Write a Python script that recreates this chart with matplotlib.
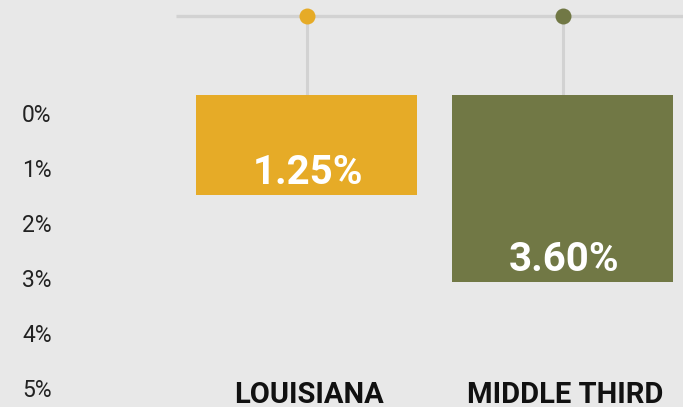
import matplotlib
matplotlib.use("Agg")
import matplotlib.pyplot as plt

# Data
categories = ["LOUISIANA", "MIDDLE THIRD"]
value_labels = ["1.25%", "3.60%"]
bar_ends = [1.50, 3.08]          # where each bar ends on the (inverted) % axis
bar_start = -0.32                # common top of the bars
tick_values = [0, 1, 2, 3, 4, 5]
tick_labels = ["0%", "1%", "2%", "3%", "4%", "5%"]
colors = ["#E6AB27", "#717845"]

BG = "#E8E8E8"
LINE = "#D2D2D2"

W, H = 683, 407
fig = plt.figure(figsize=(W / 100, H / 100), dpi=100, facecolor=BG)
left_px = 60
ax = fig.add_axes([left_px / W, 0, 1 - left_px / W, 1])
ax.set_facecolor(BG)

px_per_unit_y = 55.0
y0_px = 112.7
ax.set_ylim((H - y0_px) / px_per_unit_y, (0 - y0_px) / px_per_unit_y)
px_per_unit_x = 256.0
x0_px = 306.5
ax.set_xlim((left_px - x0_px) / px_per_unit_x, (W - x0_px) / px_per_unit_x)

xs = list(range(len(categories)))
heights = [e - bar_start for e in bar_ends]
ax.bar(xs, heights, bottom=bar_start, width=0.863, color=colors, zorder=3)

# top connector line, stems, dots
line_y = (16 - y0_px) / px_per_unit_y
ax.plot([(176 - x0_px) / px_per_unit_x, 2.0], [line_y, line_y], color=LINE, lw=2.4,
        zorder=1, solid_capstyle="butt")
for x, c in zip(xs, colors):
    ax.plot([x, x], [line_y, bar_start], color=LINE, lw=2.2, zorder=1)
    ax.plot([x], [line_y], "o", color=c, markersize=11.5, zorder=4, markeredgewidth=0)

# value labels
for x, e, lab in zip(xs, bar_ends, value_labels):
    ax.text(x + 0.005, e - 0.2, lab, ha="center", va="baseline", color="white",
            fontsize=29, fontweight="bold", family="Roboto", zorder=5)

# category labels
for x, cat in zip(xs, categories):
    ax.text(x + 0.01, 5.13, cat, ha="center", va="center", color="#111111",
            fontsize=21, fontweight="bold", family="Roboto", clip_on=False)

ax.set_yticks(tick_values)
ax.set_yticklabels(tick_labels, family="Roboto", fontsize=16.5, color="#222222")
ax.tick_params(axis="y", length=0, pad=6)
ax.set_xticks([])
for s in ax.spines.values():
    s.set_visible(False)

fig.savefig("out.png", dpi=100, facecolor=BG)
